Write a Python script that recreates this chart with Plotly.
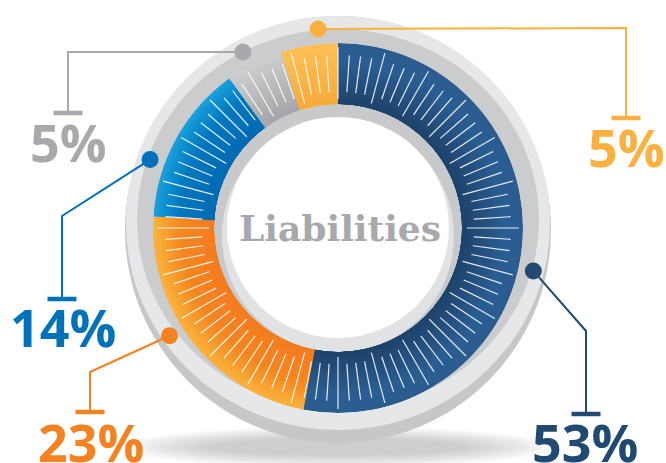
import numpy as np
import plotly.graph_objects as go

# ---------------- data ----------------
categories = ["Navy", "Orange", "Blue", "Grey", "Yellow"]   # clockwise from 12 o'clock
values = [53, 23, 14, 5, 5]
label_text = ["53%", "23%", "14%", "5%", "5%"]
center_title = "Liabilities"

# ---------------- styles / geometry ----------------
W, H = 666, 463
CX, CY = 338, 228            # ring centre (px)
R_IN, R_OUT = 124, 185       # coloured ring radii (px)

label_colors = ["#214a72", "#f58220", "#0072bc", "#a7a9ac", "#fbb040"]
grad_stops = [
    [(0.0, "#1d426a"), (0.7, "#2a5e93"), (1.0, "#2b5c8e")],
    [(0.0, "#f47b20"), (0.55, "#f5861f"), (0.85, "#f9a532"), (1.0, "#fbb23d")],
    [(0.0, "#006ab2"), (0.6, "#0078c1"), (1.0, "#1aa1dc")],
    [(0.0, "#a3a5a8"), (0.6, "#bbbdbf"), (1.0, "#cdced0")],
    [(0.0, "#f9aa39"), (1.0, "#fdc057")],
]

# callout geometry (px): dot angle (deg clockwise from top), elbow, bar y, label centre
DOT_R = 200
dot_angle = [102.4, 237.4, 290.0, 331.6, 354.3]
elbow = [(586, 331), (90, 372), (62, 216), (68, 52), (626, 28)]
bar_y = [414, 412, 299, 113, 118]
label_pos = [(585, 441), (91, 441), (63, 326), (68, 141), (626, 146)]


def hex2rgb(h):
    h = h.lstrip("#")
    return np.array([int(h[i:i + 2], 16) for i in (0, 2, 4)], float)


def grad_color(stops, t):
    for (t0, c0), (t1, c1) in zip(stops[:-1], stops[1:]):
        if t <= t1:
            f = 0 if t1 == t0 else (t - t0) / (t1 - t0)
            c = hex2rgb(c0) * (1 - f) + hex2rgb(c1) * f
            return "rgb(%d,%d,%d)" % tuple(np.round(c))
    c = hex2rgb(stops[-1][1])
    return "rgb(%d,%d,%d)" % tuple(c)


fig = go.Figure()

# ---------------- coloured ring (barpolar, radial gradient bands) ----------------
vals = np.array(values, float)
widths = vals / vals.sum() * 360.0
starts = np.concatenate([[0], np.cumsum(widths)[:-1]])
thetas = starts + widths / 2

NB = 16
for k in range(NB, 0, -1):
    r_top = R_IN + (R_OUT - R_IN) * k / NB
    t = (k - 0.5) / NB
    cols = [grad_color(s, t) for s in grad_stops]
    fig.add_trace(go.Barpolar(
        r=[r_top - R_IN] * len(values), theta=thetas, width=widths, base=R_IN,
        marker=dict(color=cols, line=dict(width=0)),
        hoverinfo="skip", showlegend=False))

# tick marks
tr, tt = [], []
for i in range(96):
    a = i * 3.75
    if i % 4 == 0:
        r0, r1 = 129, 181
    else:
        r0, r1 = 136, 173
    tr += [r0, r1, None]
    tt += [a, a, None]
fig.add_trace(go.Scatterpolar(r=tr, theta=tt, mode="lines",
                              line=dict(color="rgba(255,255,255,0.88)", width=1.2),
                              hoverinfo="skip", showlegend=False))

# ---------------- callouts (cartesian, px coordinates) ----------------
for i in range(len(values)):
    a = np.deg2rad(dot_angle[i])
    dx, dy = CX + DOT_R * np.sin(a), CY - DOT_R * np.cos(a)
    ex, ey = elbow[i]
    c = label_colors[i]
    fig.add_trace(go.Scatter(x=[dx, ex, ex], y=[dy, ey, bar_y[i]], mode="lines",
                             line=dict(color=c, width=2), hoverinfo="skip", showlegend=False))
    fig.add_trace(go.Scatter(x=[ex - 14.5, ex + 14.5], y=[bar_y[i], bar_y[i]], mode="lines",
                             line=dict(color=c, width=4.5), hoverinfo="skip", showlegend=False))
    fig.add_trace(go.Scatter(x=[dx], y=[dy], mode="markers",
                             marker=dict(color=c, size=17, line=dict(width=0)),
                             hoverinfo="skip", showlegend=False))
    fig.add_annotation(x=label_pos[i][0], y=label_pos[i][1], text=label_text[i],
                       showarrow=False, xanchor="center", yanchor="middle",
                       font=dict(family="Open Sans", size=52, color=c, weight=700))

fig.add_annotation(x=CX + 2, y=CY, text=center_title, showarrow=False,
                   xanchor="center", yanchor="middle",
                   font=dict(family="DejaVu Serif", size=36, color="#a7a9ac", weight=700))

# ---------------- decorative discs ----------------
shapes = []
# soft shadow
for j in range(8):
    rx = 215 - j * 12
    ry = 20 - j * 1.6
    shapes.append(dict(type="circle", xref="x", yref="y", layer="below",
                       x0=CX - rx, x1=CX + rx, y0=447 - ry, y1=447 + ry,
                       fillcolor="#7a7a7a", opacity=0.05, line=dict(width=0)))


def ell(x0, x1, y0, y1, col):
    return dict(type="circle", xref="x", yref="y", layer="below",
                x0=x0, x1=x1, y0=y0, y1=y1, fillcolor=col, line=dict(width=0))


shapes += [
    ell(125, 551, 16, 443, "#c6c7c9"),
    ell(126, 550, 16, 430, "#e6e7e8"),
    ell(137, 539, 29, 410, "#cbccce"),
    ell(CX - 124, CX + 124, CY - 124, CY + 124, "#c8c9cb"),
    ell(CX - 116, CX + 116, CY + 8 - 116, CY + 8 + 116, "#e1e2e3"),
    ell(CX - 111, CX + 111, CY - 111, CY + 110, "#ffffff"),
]

fig.update_layout(
    width=W, height=H, margin=dict(l=0, r=0, t=0, b=0),
    paper_bgcolor="white", plot_bgcolor="rgba(0,0,0,0)",
    shapes=shapes, showlegend=False,
    xaxis=dict(range=[0, W], visible=False, fixedrange=True, domain=[0, 1]),
    yaxis=dict(range=[H, 0], visible=False, fixedrange=True, domain=[0, 1]),
    polar=dict(
        domain=dict(x=[(CX - R_OUT) / W, (CX + R_OUT) / W],
                    y=[(H - CY - R_OUT) / H, (H - CY + R_OUT) / H]),
        hole=R_IN / R_OUT, bgcolor="rgba(0,0,0,0)", bargap=0,
        radialaxis=dict(range=[R_IN, R_OUT], visible=False),
        angularaxis=dict(rotation=90, direction="clockwise", visible=False),
    ),
)

fig.write_html("out.html", config={"displayModeBar": False},
               post_script="document.body.style.margin='0px';document.body.style.overflow='hidden';")
